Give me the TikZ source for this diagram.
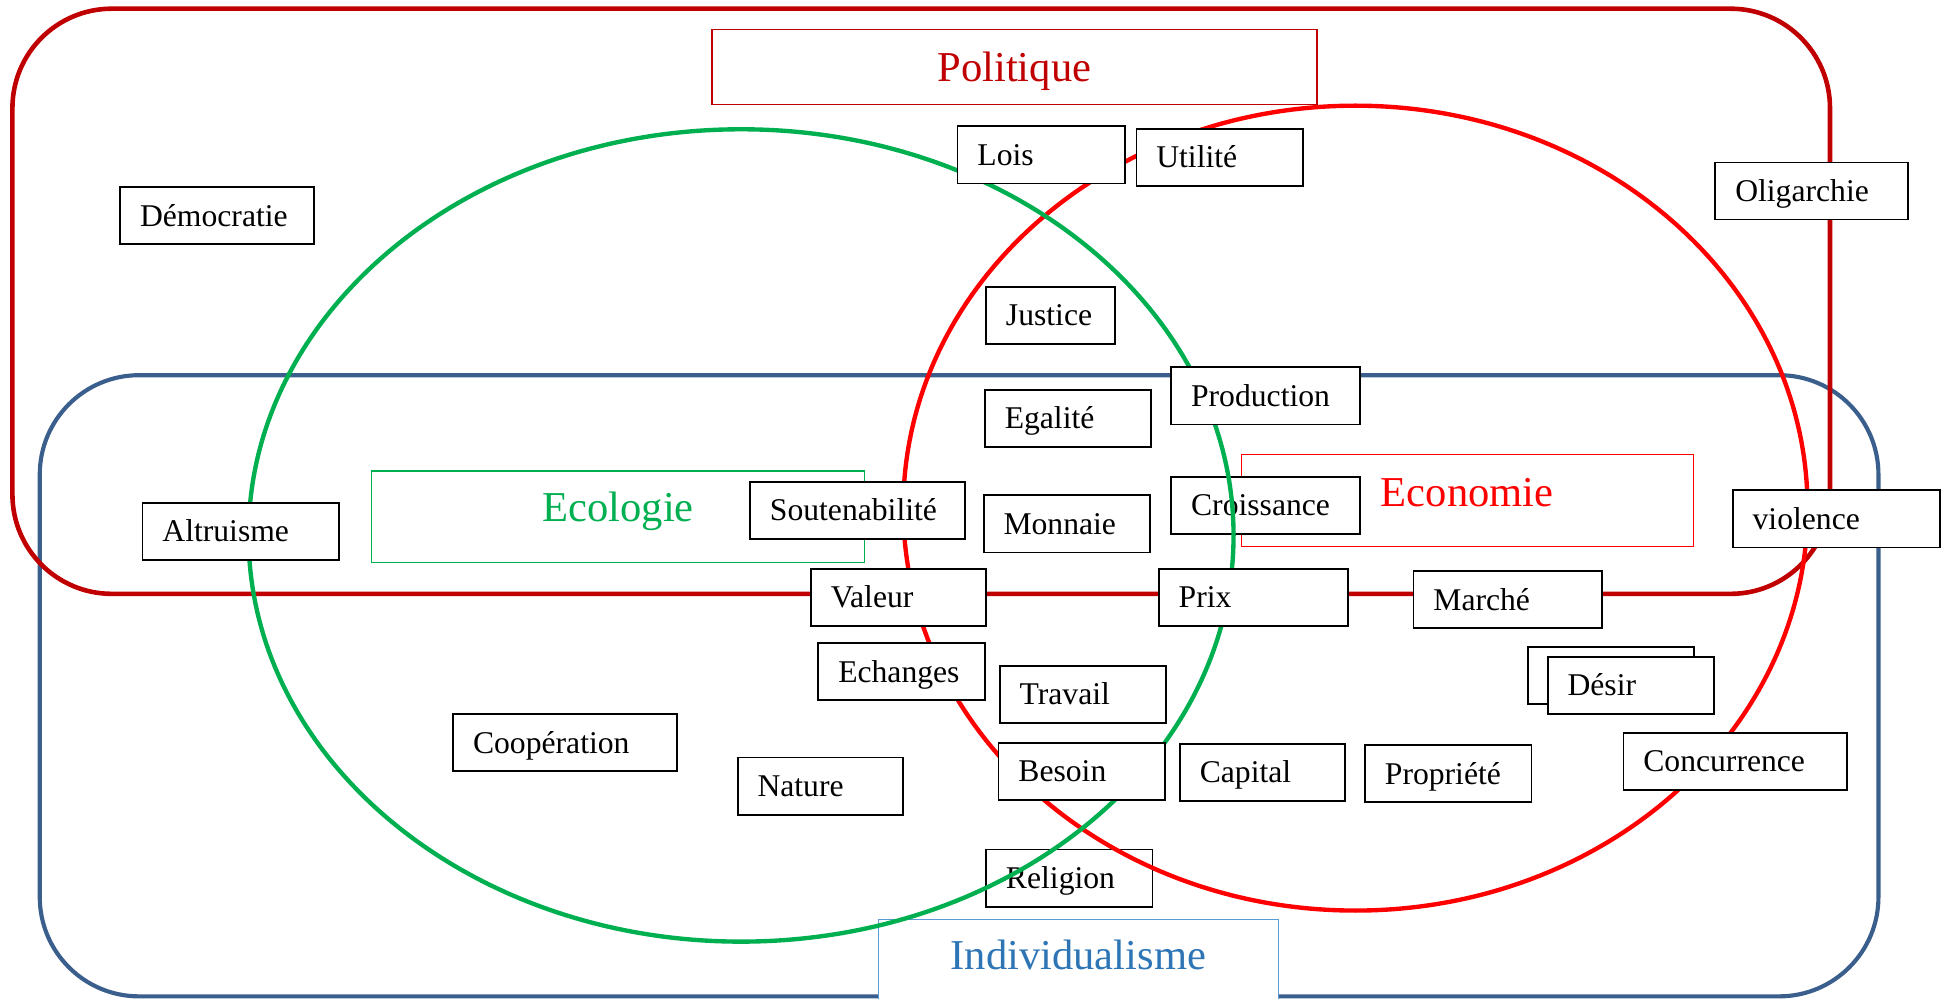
\documentclass[tikz,border=0pt]{standalone}
\usepackage{fontspec}
\setmainfont{Liberation Serif}
\usepackage{xcolor}
\usetikzlibrary{positioning}
\definecolor{polrouge}{HTML}{C00000}
\definecolor{ecorouge}{HTML}{FF0000}
\definecolor{ecovert}{HTML}{00B050}
\definecolor{indbleu}{HTML}{2E75B6}
\definecolor{indcadre}{HTML}{5B9BD5}
\definecolor{bordbleu}{HTML}{3B5F8D}
\tikzset{
cercle/.style={draw=#1, line width=2pt},
ensemble/.style={draw=#1, line width=1.9pt, rounded corners=1.6cm},
mot/.style={draw, fill=white, line width=0.85pt, anchor=north west,
	font=\fontsize{14.5pt}{17pt}\selectfont,
	inner xsep=0.32cm, inner ysep=0pt, minimum height=0.92cm,
	text height=9.6pt, text depth=0pt, align=left, text width=#1},
etiquette/.style 2 args={draw=#1, text=#2, fill=white, line width=0.6pt,
	font=\fontsize{19.5pt}{23pt}\selectfont, text height=12.9pt},
}

\begin{document}
\begin{tikzpicture}[x=0.02cm, y=-0.02cm]
\useasboundingbox (0,0) rectangle (1568,804);

%Individualisme
\draw[ensemble=bordbleu] (32,302) rectangle (1512,802);
\node[etiquette={indcadre}{indbleu}, minimum width=6.44cm, minimum height=1.44cm, text depth=8pt] (individualisme) at (868,776) {Individualisme};

%Place the titles
\node[etiquette={ecovert}{ecovert}, minimum width=7.94cm, minimum height=1.48cm, text depth=9pt] (ecologie) at (497.5,416) {Ecologie};
\node[etiquette={ecorouge}{ecorouge}, minimum width=7.28cm, minimum height=1.48cm, text depth=8pt] (economie) at (1181,403) {Economie};
\node[etiquette={polrouge}{polrouge}, minimum width=9.74cm, minimum height=1.2cm, text depth=0pt] (politique) at (816.5,54) {Politique};

%Politique
\draw[ensemble=polrouge, line width=2.1pt] (10,7) rectangle (1473,478);

%boxes under the circles
\node[mot=2.40cm] (croissance) at (942,383) {Croissance};
\node[mot=2.04cm] (religion) at (793,683) {Religion};

%Economie and Ecologie
\draw[cercle=ecorouge] (1091,409) ellipse [x radius=7.28cm, y radius=6.48cm];
\draw[cercle=ecovert] (596.5,431) ellipse [x radius=7.93cm, y radius=6.54cm];

%Place the nodes
\node[mot=2.48cm] (democratie) at (96,150) {Démocratie};
\node[mot=2.06cm] (lois) at (770,101) {Lois};
\node[mot=2.04cm] (utilite) at (914,103) {Utilité};
\node[mot=2.46cm] (oligarchie) at (1380,130) {Oligarchie};
\node[mot=1.44cm] (justice) at (793,230) {Justice};
\node[mot=2.40cm] (production) at (942,295) {Production};
\node[mot=2.04cm] (egalite) at (792,313) {Egalité};
\node[mot=2.52cm] (altruisme) at (114,404) {Altruisme};
\node[mot=2.82cm] (soutenabilite) at (603,387) {Soutenabilité};
\node[mot=2.04cm] (monnaie) at (791,398) {Monnaie};
\node[mot=2.70cm] (violence) at (1394,394) {violence};
\node[mot=2.18cm] (valeur) at (652,457) {Valeur};
\node[mot=2.40cm] (prix) at (932,457) {Prix};
\node[mot=2.40cm] (marche) at (1137,459) {Marché};
\node[mot=2.04cm] (echanges) at (658,517) {Echanges};
\node[mot=2.04cm] (travail) at (804,535) {Travail};
\node[mot=2.04cm] (desirfond) at (1229,520) {};
\node[mot=2.04cm] (desir) at ([shift={(16,8)}]desirfond.north west) {Désir};
\node[mot=2.96cm] (cooperation) at (364,574) {Coopération};
\node[mot=2.96cm] (concurrence) at (1306,589) {Concurrence};
\node[mot=2.02cm] (nature) at (593,609) {Nature};
\node[mot=2.04cm] (besoin) at (803,597) {Besoin};
\node[mot=2.02cm] (capital) at (949,598) {Capital};
\node[mot=2.04cm] (propriete) at (1098,599) {Propriété};

\end{tikzpicture}
\end{document}
